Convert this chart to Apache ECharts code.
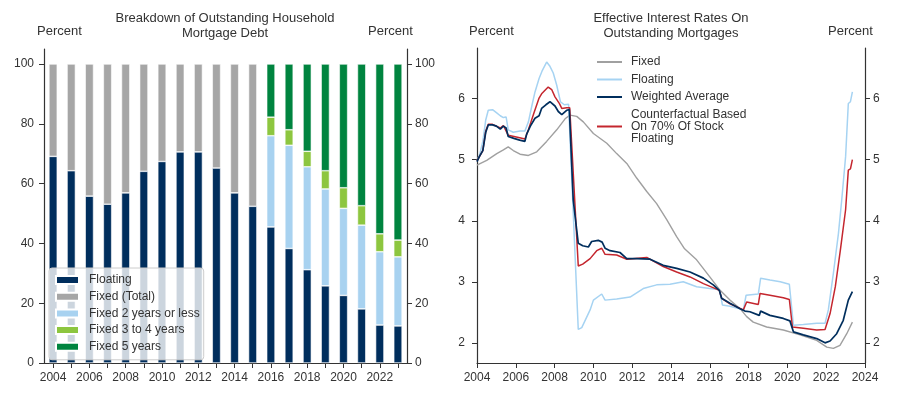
<!DOCTYPE html>
<html>
<head>
<meta charset="utf-8">
<script src="https://cdn.jsdelivr.net/npm/echarts@6/dist/echarts.min.js"></script>
<style>
  html, body { margin: 0; padding: 0; background: #fff; }
  #chart { width: 899px; height: 401px; }
</style>
</head>
<body>
<div id="chart"></div>
<script>
// left panel: shares of outstanding mortgage debt, per cent
const years = ['2004', '2005', '2006', '2007', '2008', '2009', '2010', '2011', '2012', '2013',
  '2014', '2015', '2016', '2017', '2018', '2019', '2020', '2021', '2022', '2023'];
const floatingShare = [69.1, 64.3, 55.8, 53.1, 56.9, 64.1, 67.4, 70.6, 70.6, 65.2,
  56.9, 52.4, 45.5, 38.3, 31.2, 25.8, 22.6, 18.1, 12.7, 12.4];
const fixedTotalShare = [30.9, 35.7, 44.2, 46.9, 43.1, 35.9, 32.6, 29.4, 29.4, 34.8,
  43.1, 47.6, null, null, null, null, null, null, null, null];
const fixed2Share = [null, null, null, null, null, null, null, null, null, null,
  null, null, 30.5, 34.5, 34.4, 32.4, 29.1, 28.0, 24.5, 23.1];
const fixed34Share = [null, null, null, null, null, null, null, null, null, null,
  null, null, 6.2, 5.2, 5.2, 6.1, 6.9, 6.5, 6.0, 5.6];
const fixed5Share = [null, null, null, null, null, null, null, null, null, null,
  null, null, 17.8, 22.0, 29.2, 35.7, 41.4, 47.4, 56.8, 58.9];
const shareTicks = [0, 20, 40, 60, 80, 100];

// right panel: effective rates, [year, per cent]
const fixedRate = [
  [2004.0, 4.91], [2004.5, 4.99], [2005.02, 5.10], [2005.36, 5.16], [2005.61, 5.21],
  [2005.87, 5.15], [2006.22, 5.09], [2006.65, 5.07], [2007.08, 5.13], [2007.59, 5.30],
  [2008.11, 5.49], [2008.54, 5.67], [2008.79, 5.73], [2009.14, 5.71], [2009.48, 5.62],
  [2010.0, 5.43], [2010.69, 5.27], [2011.2, 5.10], [2011.72, 4.94], [2012.23, 4.70],
  [2012.75, 4.48], [2013.26, 4.28], [2013.78, 4.02], [2014.29, 3.74], [2014.7, 3.54],
  [2015.32, 3.36], [2016.0, 3.08], [2016.53, 2.86], [2017.04, 2.70], [2017.56, 2.56],
  [2017.9, 2.43], [2018.24, 2.34], [2018.93, 2.26], [2019.79, 2.21], [2020.65, 2.13],
  [2021.51, 2.04], [2022.03, 1.93], [2022.37, 1.91], [2022.71, 1.96], [2023.06, 2.15],
  [2023.35, 2.34]
];
const floatingRate = [
  [2004.0, 4.98], [2004.15, 5.10], [2004.3, 5.30], [2004.45, 5.65], [2004.58, 5.81],
  [2004.8, 5.82], [2005.0, 5.77], [2005.2, 5.72], [2005.36, 5.69], [2005.5, 5.70],
  [2005.61, 5.49], [2005.87, 5.45], [2006.22, 5.47], [2006.47, 5.47], [2006.65, 5.62],
  [2006.84, 5.90], [2006.99, 6.11], [2007.2, 6.33], [2007.35, 6.45], [2007.59, 6.60],
  [2007.76, 6.53], [2007.93, 6.42], [2008.11, 6.22], [2008.3, 5.95], [2008.5, 5.90],
  [2008.72, 5.91], [2008.8, 5.88], [2009.22, 2.22], [2009.4, 2.25], [2009.83, 2.54],
  [2010.0, 2.70], [2010.43, 2.80], [2010.6, 2.70], [2011.2, 2.72], [2011.89, 2.75],
  [2012.57, 2.89], [2013.26, 2.95], [2013.95, 2.96], [2014.63, 3.00], [2015.32, 2.92],
  [2016.0, 2.89], [2016.5, 2.87], [2016.65, 2.62], [2017.04, 2.60], [2017.73, 2.54],
  [2017.87, 2.78], [2018.5, 2.80], [2018.62, 3.06], [2019.1, 3.03], [2019.63, 3.00],
  [2020.1, 2.96], [2020.31, 2.29], [2020.82, 2.30], [2021.51, 2.32], [2021.94, 2.32],
  [2022.11, 2.54], [2022.37, 3.14], [2022.63, 3.79], [2022.8, 4.34], [2023.0, 5.05],
  [2023.14, 5.92], [2023.25, 5.95], [2023.35, 6.11]
];
const weightedRate = [
  [2004.0, 4.97], [2004.12, 5.05], [2004.2, 5.03], [2004.3, 5.15], [2004.45, 5.45],
  [2004.58, 5.57], [2004.8, 5.57], [2005.0, 5.55], [2005.2, 5.50], [2005.36, 5.55],
  [2005.5, 5.52], [2005.61, 5.38], [2005.9, 5.35], [2006.2, 5.32], [2006.47, 5.30],
  [2006.56, 5.42], [2006.75, 5.55], [2006.99, 5.68], [2007.2, 5.72], [2007.33, 5.84],
  [2007.55, 5.90], [2007.76, 5.95], [2008.02, 5.88], [2008.19, 5.79], [2008.37, 5.74],
  [2008.62, 5.81], [2008.76, 5.82], [2008.96, 4.34], [2009.22, 3.63], [2009.45, 3.59],
  [2009.74, 3.57], [2009.91, 3.66], [2010.25, 3.68], [2010.45, 3.65], [2010.6, 3.55],
  [2010.86, 3.51], [2011.37, 3.48], [2011.72, 3.38], [2012.23, 3.38], [2012.92, 3.37],
  [2013.6, 3.27], [2014.29, 3.22], [2014.98, 3.16], [2015.67, 3.06], [2016.18, 2.95],
  [2016.49, 2.86], [2016.61, 2.73], [2017.04, 2.65], [2017.56, 2.56], [2017.81, 2.52],
  [2018.07, 2.51], [2018.55, 2.45], [2018.62, 2.52], [2019.1, 2.45], [2019.79, 2.40],
  [2020.13, 2.36], [2020.31, 2.18], [2020.82, 2.13], [2021.51, 2.07], [2021.94, 2.00],
  [2022.2, 2.03], [2022.54, 2.15], [2022.88, 2.37], [2023.14, 2.70], [2023.35, 2.84]
];
const counterfactualRate = [
  [2004.0, 4.98], [2004.3, 5.15], [2004.45, 5.47], [2004.58, 5.58], [2004.8, 5.58],
  [2005.2, 5.52], [2005.36, 5.56], [2005.61, 5.40], [2006.2, 5.36], [2006.47, 5.34],
  [2006.65, 5.49], [2006.93, 5.76], [2007.2, 6.01], [2007.33, 6.08], [2007.67, 6.19],
  [2007.85, 6.15], [2008.02, 6.03], [2008.25, 5.92], [2008.37, 5.84], [2008.62, 5.85],
  [2008.78, 5.85], [2009.22, 3.26], [2009.45, 3.29], [2009.83, 3.38], [2010.17, 3.51],
  [2010.43, 3.55], [2010.6, 3.45], [2011.2, 3.44], [2011.72, 3.37], [2012.75, 3.40],
  [2013.6, 3.25], [2014.29, 3.16], [2014.98, 3.08], [2015.67, 2.97], [2016.35, 2.88],
  [2016.49, 2.86], [2016.61, 2.73], [2017.04, 2.64], [2017.73, 2.54], [2017.9, 2.67],
  [2018.5, 2.63], [2018.59, 2.81], [2019.1, 2.78], [2019.79, 2.74], [2020.1, 2.71],
  [2020.26, 2.26], [2020.82, 2.24], [2021.51, 2.21], [2021.94, 2.22], [2022.2, 2.48],
  [2022.47, 2.92], [2022.73, 3.52], [2023.0, 4.18], [2023.14, 4.83], [2023.25, 4.85],
  [2023.35, 5.00]
];
const rateTicks = [2, 3, 4, 5, 6];

const FONT = "'Liberation Sans', Arial, sans-serif";
const TXT = '#333';
const AX = '#333';

const chart = echarts.init(document.getElementById('chart'));

const axisLine = { show: true, lineStyle: { color: AX, width: 1.2 } };

function yAxis(grid, pos, min, max, ticks, margin) {
  return {
    type: 'value', gridIndex: grid, position: pos, min: min, max: max,
    axisLine: axisLine,
    axisTick: { show: true, length: 5, customValues: ticks, lineStyle: { color: AX } },
    axisLabel: { customValues: ticks, margin: margin, color: TXT, fontSize: 12, fontFamily: FONT },
    splitLine: { show: false }
  };
}

function bar(name, data, color) {
  return {
    type: 'bar', name: name, data: data, stack: 'share',
    xAxisIndex: 0, yAxisIndex: 0, barWidth: '46%',
    itemStyle: { color: color, borderColor: '#fff', borderWidth: 0.6 }
  };
}

function line(name, data, color, width) {
  return {
    type: 'line', name: name, data: data, xAxisIndex: 1, yAxisIndex: 2,
    showSymbol: false, symbol: 'none', color: color,
    lineStyle: { color: color, width: width }
  };
}

const option = {
  animation: false,
  textStyle: { fontFamily: FONT },
  graphic: [
    { type: 'text', x: 225, y: 11, style: { text: 'Breakdown of Outstanding Household\nMortgage Debt',
      textAlign: 'center', fontSize: 13, lineHeight: 15, fill: TXT, fontFamily: FONT } },
    { type: 'text', x: 37, y: 25, style: { text: 'Percent', fontSize: 13, fill: TXT, fontFamily: FONT } },
    { type: 'text', x: 368, y: 25, style: { text: 'Percent', fontSize: 13, fill: TXT, fontFamily: FONT } },
    { type: 'text', x: 671, y: 11, style: { text: 'Effective Interest Rates On\nOutstanding Mortgages',
      textAlign: 'center', fontSize: 13, lineHeight: 15, fill: TXT, fontFamily: FONT } },
    { type: 'text', x: 469, y: 25, style: { text: 'Percent', fontSize: 13, fill: TXT, fontFamily: FONT } },
    { type: 'text', x: 828, y: 25, style: { text: 'Percent', fontSize: 13, fill: TXT, fontFamily: FONT } }
  ],
  legend: [
    {
      left: 49, top: 268, orient: 'vertical', padding: [5, 4, 6, 6],
      backgroundColor: 'rgba(255,255,255,0.8)', borderColor: '#ccc', borderWidth: 1, borderRadius: 3,
      itemWidth: 23, itemHeight: 8, itemGap: 2.7, icon: 'rect',
      textStyle: { fontSize: 12, lineHeight: 14, color: TXT, fontFamily: FONT, padding: [0, 0, 0, 5] },
      data: ['Floating', 'Fixed (Total)', 'Fixed 2 years or less', 'Fixed 3 to 4 years', 'Fixed 5 years']
    },
    {
      left: 597, top: 56, orient: 'vertical', padding: 0,
      itemWidth: 25, itemHeight: 2, itemGap: 5.5, icon: 'rect',
      textStyle: { fontSize: 12, lineHeight: 12, color: TXT, fontFamily: FONT, padding: [0, 0, 0, 4] },
      data: ['Fixed', 'Floating ', 'Weighted Average', 'Counterfactual Based\nOn 70% Of Stock\nFloating']
    }
  ],
  grid: [
    { left: 44, right: 492, top: 49, bottom: 38 },
    { left: 477, right: 34, top: 48, bottom: 38 }
  ],
  xAxis: [
    {
      type: 'category', gridIndex: 0, data: years, boundaryGap: true,
      axisLine: axisLine,
      axisTick: { show: true, length: 5, alignWithLabel: true, interval: 0, lineStyle: { color: AX } },
      axisLabel: { interval: 1, margin: 9, color: TXT, fontSize: 12, fontFamily: FONT }
    },
    {
      type: 'value', gridIndex: 1, min: 2004, max: 2024, interval: 2,
      axisLine: axisLine,
      axisTick: { show: true, length: 5, lineStyle: { color: AX } },
      axisLabel: { margin: 9, color: TXT, fontSize: 12, fontFamily: FONT, formatter: v => String(v) },
      splitLine: { show: false }
    }
  ],
  yAxis: [
    yAxis(0, 'left', 0, 105, shareTicks, 10),
    yAxis(0, 'right', 0, 105, shareTicks, 8),
    yAxis(1, 'left', 1.67, 6.83, rateTicks, 12),
    yAxis(1, 'right', 1.67, 6.83, rateTicks, 8)
  ],
  series: [
    bar('Floating', floatingShare, '#002E5D'),
    bar('Fixed (Total)', fixedTotalShare, '#A6A6A6'),
    bar('Fixed 2 years or less', fixed2Share, '#A8D2F0'),
    bar('Fixed 3 to 4 years', fixed34Share, '#8DC63F'),
    bar('Fixed 5 years', fixed5Share, '#00843F'),
    line('Fixed', fixedRate, '#A0A0A0', 1.4),
    line('Floating ', floatingRate, '#A6D3F2', 1.5),
    line('Counterfactual Based\nOn 70% Of Stock\nFloating', counterfactualRate, '#C4262E', 1.5),
    line('Weighted Average', weightedRate, '#002E5D', 1.7)
  ]
};

chart.setOption(option);
</script>
</body>
</html>
